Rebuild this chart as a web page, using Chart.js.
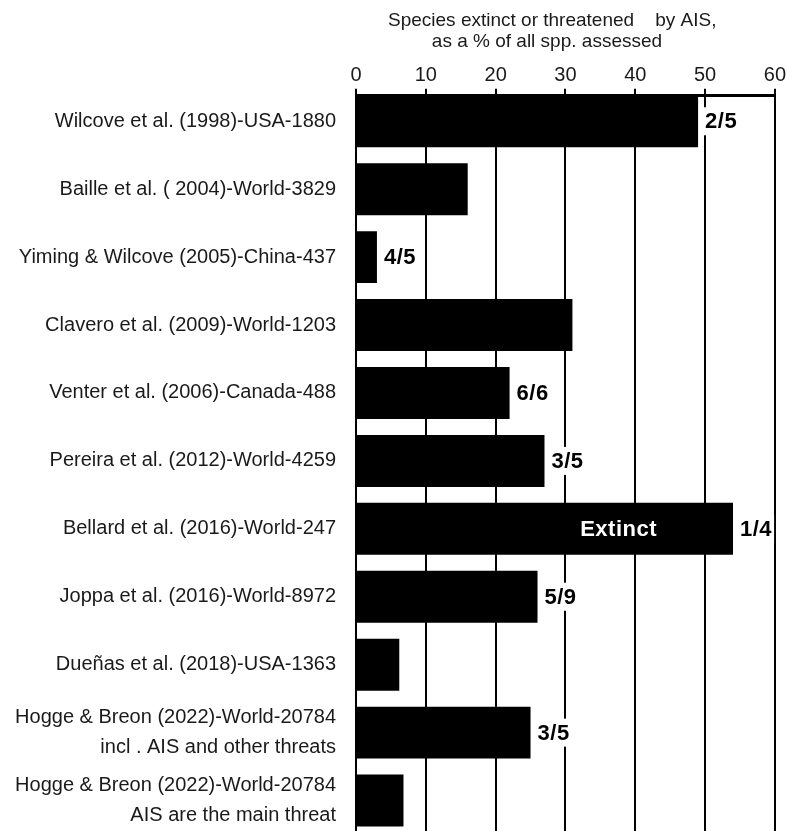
<!DOCTYPE html>
<html>
<head>
<meta charset="utf-8">
<title>Species threatened by AIS</title>
<script src="https://cdn.jsdelivr.net/npm/chart.js@4.4.1/dist/chart.umd.min.js"></script>
<style>
  html, body { margin: 0; padding: 0; background: #fff; }
  #wrap { width: 787px; height: 831px; position: relative; }
</style>
</head>
<body>
<div id="wrap"><canvas id="chart"></canvas></div>
<script>
'use strict';

/* ── Data ─────────────────────────────────────────────── */
const studies = [
  'Wilcove et al. (1998)-USA-1880',
  'Baille et al. ( 2004)-World-3829',
  'Yiming & Wilcove (2005)-China-437',
  'Clavero et al. (2009)-World-1203',
  'Venter et al. (2006)-Canada-488',
  'Pereira et al. (2012)-World-4259',
  'Bellard et al. (2016)-World-247',
  'Joppa et al. (2016)-World-8972',
  'Dueñas et al. (2018)-USA-1363',
  ['Hogge & Breon (2022)-World-20784', 'incl . AIS and other threats'],
  ['Hogge & Breon (2022)-World-20784', 'AIS are the main threat'],
];
const percentThreatened = [49, 16, 3, 31, 22, 27, 54, 26, 6.2, 25, 6.8];
const ratioNotes  = ['2/5', '', '4/5', '', '6/6', '3/5', '1/4', '5/9', '', '3/5', ''];
const insideNotes = ['', '', '', '', '', '', 'Extinct', '', '', '', ''];
const xTicks = [0, 10, 20, 30, 40, 50, 60];
// trailing spaces nudge the title a bit left of the plot centre, as in the original
const axisTitle = ['Species extinct or threatened    by AIS,     ', 'as a % of all spp. assessed       '];

/* ── Styling ──────────────────────────────────────────── */
const FONT = '"Liberation Sans", Arial, Helvetica, sans-serif';
const TEXT = '#1a1a1a';
const ROW_PX = 68;        // vertical spacing between studies
const Y_MIN = -0.375;     // first bar sits right under the top axis

/* ── Notes drawn next to / inside the bars ────────────── */
const barNotes = {
  id: 'barNotes',
  afterDatasetsDraw(chart) {
    const ctx = chart.ctx;
    const meta = chart.getDatasetMeta(0);
    ctx.save();
    ctx.font = 'bold 22px ' + FONT;
    ctx.letterSpacing = '0.5px';
    ctx.textBaseline = 'middle';
    meta.data.forEach((bar, i) => {
      const t = ratioNotes[i];
      if (t) {
        const w = ctx.measureText(t).width;
        const x = bar.x + 7;
        ctx.fillStyle = '#fff';
        ctx.fillRect(x - 2, bar.y - 14, w + 4, 28);
        ctx.fillStyle = '#000';
        ctx.textAlign = 'left';
        ctx.fillText(t, x, bar.y + 1);
      }
      const inner = insideNotes[i];
      if (inner) {
        ctx.fillStyle = '#fff';
        ctx.textAlign = 'right';
        ctx.fillText(inner, bar.x - 76, bar.y + 1);
      }
    });
    ctx.restore();
  }
};

/* ── Chart ────────────────────────────────────────────── */
const canvasH = 831;
const plotTop = 95;
const yMax = Y_MIN + (canvasH - plotTop) / ROW_PX;

new Chart(document.getElementById('chart'), {
  type: 'bar',
  data: {
    datasets: [{
      data: percentThreatened.map((v, i) => ({ x: v, y: i })),
      backgroundColor: '#000',
      borderWidth: 0,
      categoryPercentage: 1,
      barPercentage: 0.765,
    }]
  },
  options: {
    indexAxis: 'y',
    responsive: true,
    maintainAspectRatio: false,
    animation: false,
    layout: { padding: { top: 10, right: 0, bottom: 0, left: 0 } },
    plugins: {
      legend: { display: false },
      tooltip: { enabled: false },
    },
    scales: {
      x: {
        type: 'linear',
        position: 'top',
        min: 0,
        max: 60,
        afterBuildTicks: s => { s.ticks = xTicks.map(v => ({ value: v })); },
        grid: { color: '#000', lineWidth: 2, tickLength: 7, tickColor: '#000' },
        border: { display: true, color: '#000', width: 3 },
        ticks: { color: TEXT, padding: 1, font: { family: FONT, size: 20 } },
        title: {
          display: true,
          text: axisTitle,
          color: TEXT,
          padding: { top: 0, bottom: 11 },
          font: { family: FONT, size: 19, lineHeight: 1.1 },
        },
      },
      y: {
        type: 'linear',
        reverse: true,
        offset: false,
        bounds: 'data',
        min: Y_MIN,
        max: yMax,
        afterBuildTicks: s => { s.ticks = studies.map((_, i) => ({ value: i })); },
        afterFit: s => {
          s.width = 356;
          s.paddingTop = 0;
          s.paddingBottom = 0;
        },
        grid: { display: false, drawTicks: false, offset: false },
        border: { display: false },
        ticks: {
          autoSkip: false,
          padding: 20,
          color: TEXT,
          font: { family: FONT, size: 20, lineHeight: 1.5 },
          callback: v => studies[v] || '',
        },
      },
    },
  },
  plugins: [barNotes],
});
</script>
</body>
</html>
